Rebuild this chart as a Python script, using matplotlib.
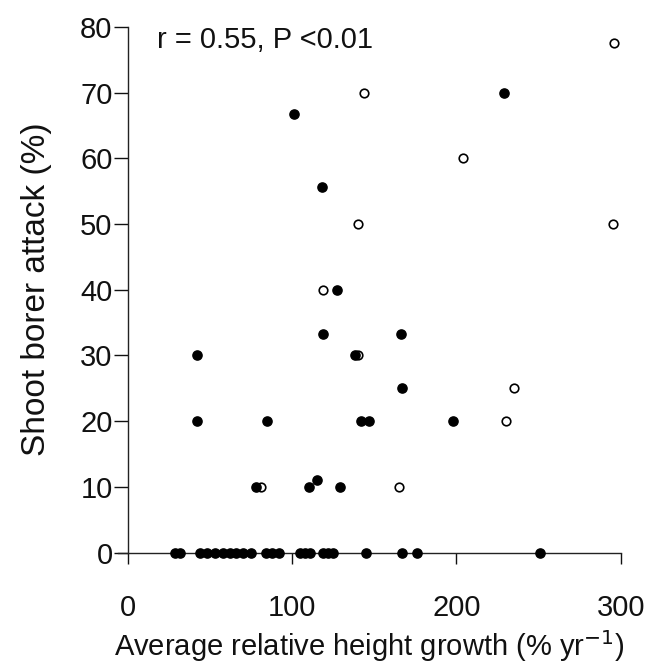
import matplotlib
matplotlib.use("Agg")
import matplotlib.pyplot as plt

plt.rcParams['font.family'] = ['Liberation Sans', 'DejaVu Sans']

# filled symbols
filled_x = [29, 32, 44, 48, 53, 58, 62, 66, 70, 75, 84, 88, 92, 105, 108, 111,
            119, 122, 125, 145, 167, 176, 251,
            78, 110, 115, 129,
            42, 85, 142, 147, 198, 167,
            42, 138, 119, 166,
            127, 118, 101, 229]
filled_y = [0, 0, 0, 0, 0, 0, 0, 0, 0, 0, 0, 0, 0, 0, 0, 0,
            0, 0, 0, 0, 0, 0, 0,
            10, 10, 11, 10,
            20, 20, 20, 20, 20, 25,
            30, 30, 33.3, 33.3,
            40, 55.6, 66.7, 70]

# open symbols
open_x = [81, 165, 230, 235, 140, 119, 140, 295, 204, 144, 296]
open_y = [10, 10, 20, 25, 30, 40, 50, 50, 60, 70, 77.6]

x_ticks = [0, 100, 200, 300]
y_ticks = [0, 10, 20, 30, 40, 50, 60, 70, 80]

fig = plt.figure(figsize=(6.59, 6.71), dpi=100)
ax = fig.add_axes([0.179, 0.1766, 0.763, 0.7834])

ax.scatter(open_x, open_y, s=38, facecolors='white', edgecolors='black',
           linewidths=1.2, zorder=3, clip_on=False)
ax.scatter(filled_x, filled_y, s=44, color='black', zorder=4, clip_on=False)

ax.set_xlim(-6, 300)
ax.set_ylim(0, 80)
ax.spines['left'].set_position(('data', 0))
ax.spines['top'].set_visible(False)
ax.spines['right'].set_visible(False)
for side in ['left', 'bottom']:
    ax.spines[side].set_linewidth(1.0)
    ax.spines[side].set_color('#222222')

ax.set_xticks(x_ticks)
ax.set_yticks(y_ticks)
ax.tick_params(axis='x', direction='out', length=8, width=1.0, pad=22,
               labelsize=21, colors='#111111')
ax.tick_params(axis='y', direction='out', length=10, width=1.0, pad=1,
               labelsize=21, colors='#111111')

ax.set_xlabel('Average relative height growth (% yr$^{-1}$)', fontsize=21,
              labelpad=4, color='#111111')
ax.set_ylabel('Shoot borer attack (%)', fontsize=24, labelpad=20,
              color='#111111')

ax.text(18, 78, 'r = 0.55, P <0.01', fontsize=21, ha='left', va='center',
        color='#111111')

fig.savefig('out.png', dpi=100)
